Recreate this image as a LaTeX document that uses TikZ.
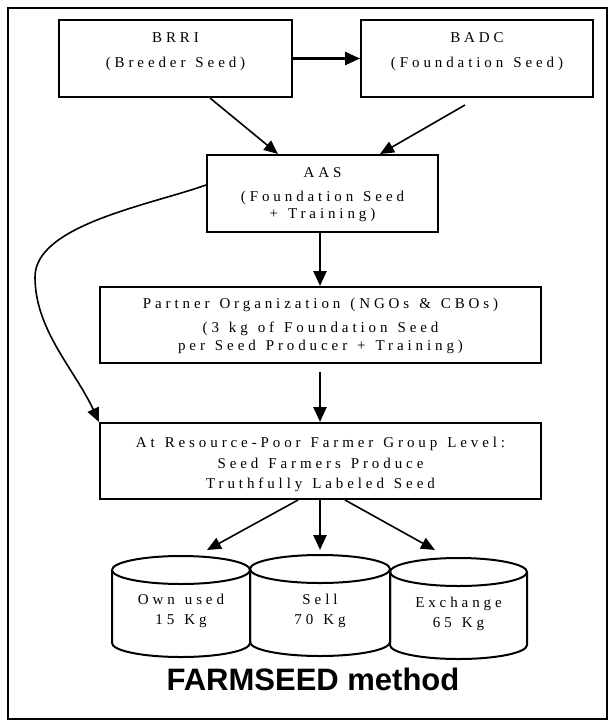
\documentclass[tikz,border=0pt]{standalone}
\usepackage{fontspec}
\setmainfont{Liberation Serif}
\newfontfamily\spacedfont[LetterSpace=26,WordSpace=1.3]{Liberation Serif}
\newfontfamily\titlefont{Liberation Sans}
\usetikzlibrary{arrows.meta}
\newcommand{\seedcyl}[4]{%
  \draw[cylline] (#1-#2,#3) -- (#1-#2,#4) arc[start angle=180,end angle=360,x radius=#2pt,y radius=14pt] -- (#1+#2,#3);
  \draw[cylline] (#1,#3) ellipse[x radius=#2pt,y radius=14pt];
}
\begin{document}
\begin{tikzpicture}[x=1pt,y=-1pt,
  box/.style={draw,line width=2pt,inner sep=0pt},
  txt/.style={anchor=north,align=center,inner sep=0pt,font=\spacedfont\fontsize{15}{18}\selectfont},
  cylline/.style={line width=2pt},
  thin arrow/.style={line width=1.6pt,-{Triangle[length=14pt,width=12pt]}},
  thick arrow/.style={line width=2.6pt,-{Triangle[length=15pt,width=13pt]}},
  frame/.style={draw,line width=2pt}]
\useasboundingbox (0,0) rectangle (613,721);
\draw[frame] (8,8) rectangle (607,719);

% boxes
\node[box,minimum width=233pt,minimum height=77pt] (brri) at (175.5,58.5) {};
\node[box,minimum width=232pt,minimum height=77pt] (badc) at (477,58.5) {};
\node[box,minimum width=231pt,minimum height=77pt] (aas) at (322.5,193.5) {};
\node[box,minimum width=441pt,minimum height=76pt] (partner) at (320.5,325) {};
\node[box,minimum width=441pt,minimum height=76pt] (farmer) at (320.5,461) {};

% texts
\node[txt] (brritxt) at (175.5,32) {BRRI\\[7pt](Breeder Seed)};
\node[txt] (badctxt) at (477,32) {BADC\\[7pt](Foundation Seed)};
\node[txt] (aastxt) at (322.5,167) {AAS\\[6pt](Foundation Seed\\[-1pt]+ Training)};
\node[txt] (partnertxt) at (320.5,298) {Partner Organization (NGOs \& CBOs)\\[6pt](3 kg of Foundation Seed\\per Seed Producer + Training)};
\node[txt] (farmertxt) at (320.5,437) {At Resource-Poor Farmer Group Level:\\[3pt]Seed Farmers Produce\\[2pt]Truthfully Labeled Seed};

% cylinders
\seedcyl{181}{69}{570}{643}
\seedcyl{320}{70}{569}{642}
\seedcyl{458.5}{68.5}{572}{645}
\node[txt] (own) at (181,594) {Own used\\[2pt]15 Kg};
\node[txt] (sell) at (320,594) {Sell\\[2pt]70 Kg};
\node[txt] (exch) at (458.5,597) {Exchange\\[2pt]65 Kg};

\coordinate (cylL) at (207,550);
\coordinate (cylM) at (320,550);
\coordinate (cylR) at (435,550);

% title
\node[inner sep=0pt,font=\titlefont\bfseries\fontsize{31}{36}\selectfont] (title) at (313,679) {FARMSEED method};

% connectors
\draw[thick arrow] (brri.east) -- (badc.west);
\draw[thin arrow] ([xshift=34.5pt]brri.south) -- ([xshift=-44.5pt]aas.north);
\draw[thin arrow] ([xshift=-12pt,yshift=-7pt]badc.south) -- ([xshift=57.5pt]aas.north);
\draw[thick arrow] ([xshift=-2.5pt]aas.south) -- ([xshift=-0.5pt]partner.north);
\draw[thick arrow] ([xshift=-0.5pt,yshift=-8pt]partner.south) -- ([xshift=-0.5pt]farmer.north);
\draw[thin arrow] ([yshift=8.5pt]aas.west) .. controls (150,205) and (35,225) .. (35,277)
  .. controls (35,330) and (75,370) .. (farmer.north west);
\draw[thin arrow] ([xshift=-22.5pt]farmer.south) -- (cylL);
\draw[thick arrow] ([xshift=-0.5pt]farmer.south) -- (cylM);
\draw[thin arrow] ([xshift=24.5pt]farmer.south) -- (cylR);
\end{tikzpicture}
\end{document}
